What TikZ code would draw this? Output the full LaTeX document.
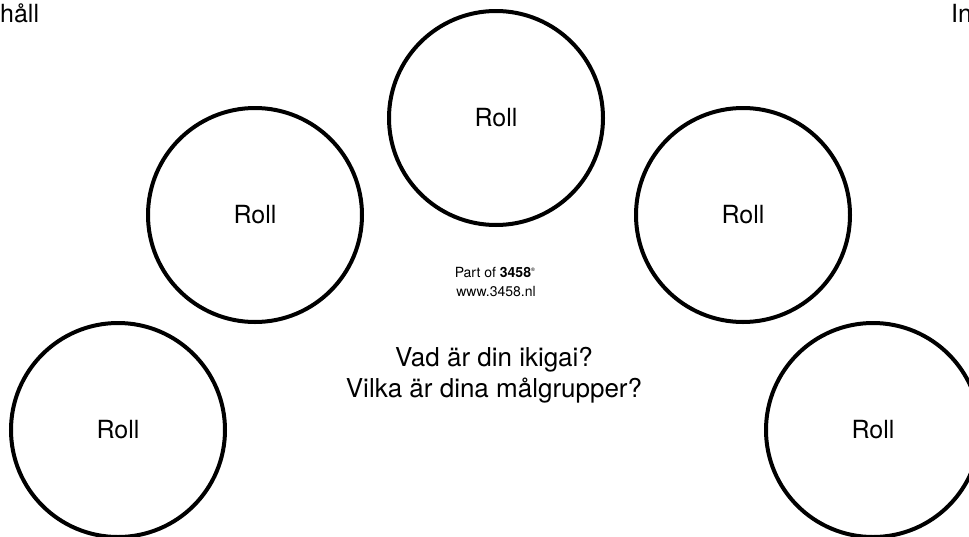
\documentclass[tikz,border=0pt]{standalone}
\usepackage{fontspec}
\setmainfont{TeX Gyre Heros}
\begin{document}
\begin{tikzpicture}[x=1pt,y=-1pt,
  role/.style={circle,draw=black,line width=4pt,minimum size=214pt,inner sep=0pt,
    font=\fontsize{25}{30}\selectfont},
  big/.style={inner sep=0pt,font=\fontsize{25}{30}\selectfont},
  quest/.style={inner sep=0pt,font=\fontsize{26}{31}\selectfont},
  small/.style={inner sep=0pt,font=\fontsize{14}{17}\selectfont}]
\useasboundingbox (0,0) rectangle (969,536);
\node[role] (top) at (496,118) {Roll};
\node[role] (left) at (255,215) {Roll};
\node[role] (right) at (743,215) {Roll};
\node[role] (bl) at (118,430) {Roll};
\node[role] (br) at (873,430) {Roll};
\node[big,anchor=base west] (tl) at (0,22) {håll};
\node[big,anchor=base west] (tr) at (951,22) {In};
\node[small,anchor=base] (part) at (495,277) {Part of \textbf{3458}\textsuperscript{\tiny ®}};
\node[small,anchor=base] (www) at (496,296) {www.3458.nl};
\node[quest,anchor=base] (q1) at (494,366) {Vad är din ikigai?};
\node[quest,anchor=base] (q2) at (494,397) {Vilka är dina målgrupper?};
\end{tikzpicture}
\end{document}
